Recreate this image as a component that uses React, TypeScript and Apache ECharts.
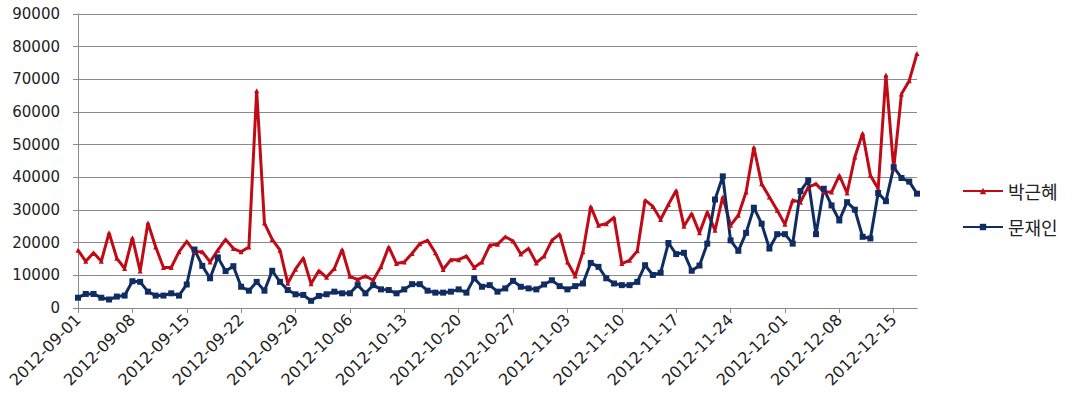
import React, { useEffect, useRef } from "react";
import * as echarts from "echarts";

const dates: string[] = [
  "2012-09-01","2012-09-02","2012-09-03","2012-09-04","2012-09-05","2012-09-06","2012-09-07","2012-09-08","2012-09-09","2012-09-10",
  "2012-09-11","2012-09-12","2012-09-13","2012-09-14","2012-09-15","2012-09-16","2012-09-17","2012-09-18","2012-09-19","2012-09-20",
  "2012-09-21","2012-09-22","2012-09-23","2012-09-24","2012-09-25","2012-09-26","2012-09-27","2012-09-28","2012-09-29","2012-09-30",
  "2012-10-01","2012-10-02","2012-10-03","2012-10-04","2012-10-05","2012-10-06","2012-10-07","2012-10-08","2012-10-09","2012-10-10",
  "2012-10-11","2012-10-12","2012-10-13","2012-10-14","2012-10-15","2012-10-16","2012-10-17","2012-10-18","2012-10-19","2012-10-20",
  "2012-10-21","2012-10-22","2012-10-23","2012-10-24","2012-10-25","2012-10-26","2012-10-27","2012-10-28","2012-10-29","2012-10-30",
  "2012-10-31","2012-11-01","2012-11-02","2012-11-03","2012-11-04","2012-11-05","2012-11-06","2012-11-07","2012-11-08","2012-11-09",
  "2012-11-10","2012-11-11","2012-11-12","2012-11-13","2012-11-14","2012-11-15","2012-11-16","2012-11-17","2012-11-18","2012-11-19",
  "2012-11-20","2012-11-21","2012-11-22","2012-11-23","2012-11-24","2012-11-25","2012-11-26","2012-11-27","2012-11-28","2012-11-29",
  "2012-11-30","2012-12-01","2012-12-02","2012-12-03","2012-12-04","2012-12-05","2012-12-06","2012-12-07","2012-12-08","2012-12-09",
  "2012-12-10","2012-12-11","2012-12-12","2012-12-13","2012-12-14","2012-12-15","2012-12-16","2012-12-17","2012-12-18"
];

const parkGeunhye: number[] = [
  17700, 14300, 16900, 14300, 23000, 15200, 12100, 21500, 11300, 26000,
  18700, 12400, 12400, 17200, 20400, 17200, 17200, 14100, 17700, 21000,
  18200, 17200, 18700, 66500, 26000, 21000, 17700, 7600, 11900, 15300,
  7400, 11400, 9400, 12100, 17900, 9700, 8700, 9800, 8500, 12600,
  18700, 13600, 14100, 16700, 19700, 20700, 16900, 11800, 14800, 14800,
  15900, 12400, 14100, 19200, 19500, 21800, 20500, 16500, 18200, 13800,
  15900, 20700, 22600, 14100, 9800, 17200, 31100, 25300, 25800, 27700,
  13600, 14600, 17500, 33000, 31100, 27100, 31700, 36000, 25000, 28900,
  23000, 29400, 23800, 34000, 25300, 28400, 35500, 49200, 38000, 34000,
  29900, 25600, 33000, 32400, 37000, 38000, 35500, 35500, 40600, 35200,
  46200, 53500, 40600, 36500, 71300, 42600, 65500, 69600, 77900
];

const moonJaein: number[] = [
  3150, 4300, 4300, 3150, 2600, 3500, 3800, 8200, 8000, 5000,
  3800, 3800, 4500, 3800, 7200, 17900, 12900, 9100, 15500, 11300,
  12800, 6500, 5300, 8000, 5300, 11400, 8000, 5500, 4200, 4000,
  2200, 3700, 4200, 5000, 4500, 4500, 7000, 4500, 7000, 5700,
  5500, 4500, 5700, 7300, 7300, 5300, 4700, 4700, 5000, 5700,
  4700, 9100, 6500, 7000, 5000, 6000, 8300, 6500, 6000, 5700,
  7200, 8500, 6700, 5700, 6700, 7500, 13800, 12600, 9100, 7500,
  7000, 7000, 8000, 13100, 10100, 10800, 19900, 16500, 16900, 11400,
  13000, 19700, 33200, 40300, 20700, 17500, 23000, 30700, 25800, 18200,
  22600, 22600, 19700, 35800, 39100, 22600, 36500, 31400, 26800, 32400,
  30100, 21800, 21300, 35200, 32700, 43100, 39800, 38700, 35000
];

const seriesNames: string[] = ["박근혜", "문재인"];
const seriesColors: string[] = ["#C00A16", "#0F2D62"];
const yMin = 0;
const yMax = 90000;
const yInterval = 10000;

export default function App() {
  const ref = useRef<HTMLDivElement>(null);

  useEffect(() => {
    document.body.style.margin = "0";
    const chart = echarts.init(ref.current as HTMLDivElement, null, { renderer: "svg" });
    const axisGray = "#8a8a8a";
    chart.setOption({
      animation: false,
      backgroundColor: "#ffffff",
      textStyle: { fontFamily: "DejaVu Sans" },
      grid: { left: 78, right: 161, top: 14, bottom: 97, containLabel: false },
      legend: {
        orient: "vertical",
        left: 957,
        top: 177,
        itemWidth: 40,
        itemHeight: 8,
        itemGap: 18,
        data: seriesNames,
        textStyle: { fontSize: 18, color: "#222", fontFamily: "Noto Sans CJK KR" },
      },
      xAxis: {
        type: "category",
        data: dates,
        boundaryGap: false,
        axisLine: { lineStyle: { color: axisGray, width: 1 } },
        axisTick: { interval: 6, length: 5, lineStyle: { color: axisGray } },
        axisLabel: { interval: 6, rotate: 45, fontSize: 16, color: "#222", margin: 9 },
        splitLine: { show: false },
      },
      yAxis: {
        type: "value",
        min: yMin,
        max: yMax,
        interval: yInterval,
        axisLine: { show: true, lineStyle: { color: axisGray, width: 1 } },
        axisTick: { show: true, length: 5, lineStyle: { color: axisGray } },
        axisLabel: {
          fontSize: 15,
          color: "#222",
          margin: 18,
          formatter: (v: number) => String(v),
        },
        splitLine: { show: true, lineStyle: { color: axisGray, width: 1 } },
      },
      series: [
        {
          name: seriesNames[0],
          type: "line",
          data: parkGeunhye,
          showAllSymbol: true,
          symbol: "triangle",
          symbolSize: 5,
          lineStyle: { width: 3, color: seriesColors[0] },
          itemStyle: { color: seriesColors[0] },
        },
        {
          name: seriesNames[1],
          type: "line",
          data: moonJaein,
          showAllSymbol: true,
          symbol: "rect",
          symbolSize: 6,
          lineStyle: { width: 3, color: seriesColors[1] },
          itemStyle: { color: seriesColors[1] },
        },
      ],
    });
    return () => chart.dispose();
  }, []);

  return <div ref={ref} style={{ width: 1078, height: 405 }} />;
}
